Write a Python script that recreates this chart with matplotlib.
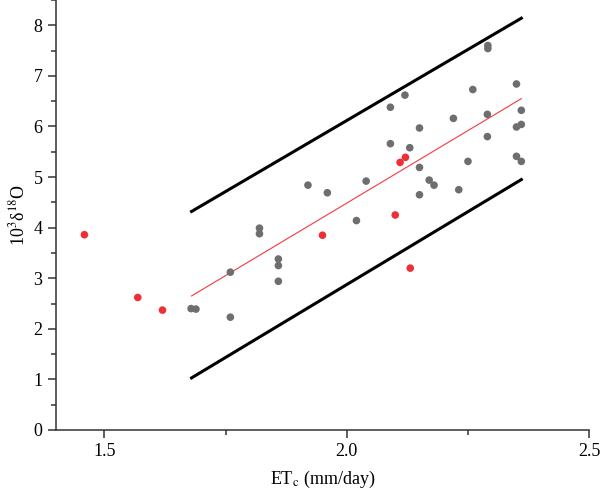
import matplotlib.pyplot as plt
from matplotlib.ticker import MultipleLocator

plt.rcParams["font.family"] = ["Liberation Serif", "DejaVu Serif"]
plt.rcParams["mathtext.fontset"] = "stix"

# grey = regular observations, red = outliers
grey_x = [1.679, 1.689, 1.760, 1.760, 1.820, 1.820, 1.859, 1.859, 1.859, 1.920,
          1.960, 2.020, 2.040, 2.090, 2.090, 2.120, 2.130, 2.150, 2.150, 2.150,
          2.170, 2.180, 2.220, 2.231, 2.250, 2.260, 2.291, 2.291, 2.290, 2.290,
          2.350, 2.350, 2.350, 2.360, 2.360, 2.360]
grey_y = [2.40, 2.39, 3.12, 2.23, 3.99, 3.88, 3.38, 3.25, 2.94, 4.84,
          4.69, 4.14, 4.92, 6.38, 5.66, 6.62, 5.58, 5.97, 5.19, 4.65,
          4.94, 4.84, 6.16, 4.75, 5.31, 6.73, 7.60, 7.54, 6.24, 5.80,
          6.84, 5.99, 5.41, 6.32, 6.04, 5.31]
red_x = [1.459, 1.569, 1.620, 1.950, 2.100, 2.110, 2.121, 2.131]
red_y = [3.86, 2.62, 2.37, 3.85, 4.25, 5.29, 5.39, 3.20]

# fitted line and its bounds
fit_x = [1.68, 2.36]
fit_y = [2.65, 6.55]
upper_y = [4.32, 8.14]
lower_y = [1.03, 4.95]

fig = plt.figure(figsize=(6, 5), dpi=100)
ax = fig.add_axes([0.093, 0.14, 0.889, 0.86])

ax.plot(fit_x, upper_y, color="black", lw=2.2, zorder=2)
ax.plot(fit_x, lower_y, color="black", lw=2.2, zorder=2)
ax.plot(fit_x, fit_y, color="#f03a3f", lw=0.8, zorder=2)
ax.scatter(grey_x, grey_y, s=30, color="#6e6e6e", edgecolors="none", zorder=3)
ax.scatter(red_x, red_y, s=30, color="#ee3036", edgecolors="none", zorder=3)

ax.set_xlim(1.4, 2.5)
ax.set_ylim(0, 8.5)
ax.xaxis.set_major_locator(MultipleLocator(0.5))
ax.xaxis.set_minor_locator(MultipleLocator(0.25))
ax.yaxis.set_major_locator(MultipleLocator(1))
ax.yaxis.set_minor_locator(MultipleLocator(0.5))
ax.xaxis.set_major_formatter(plt.FuncFormatter(lambda v, p: f"{v:.1f}"))

for s in ["top", "right"]:
    ax.spines[s].set_visible(False)
for s in ["left", "bottom"]:
    ax.spines[s].set_color("#333333")
    ax.spines[s].set_linewidth(1.1)
ax.tick_params(which="major", direction="out", length=6, width=1.1,
               color="#333333", labelsize=13)
ax.tick_params(which="minor", direction="out", length=3.5, width=1.1,
               color="#333333")

ax.set_xlabel(r"ET$_\mathrm{c}$ (mm/day)", fontsize=13, labelpad=6)
ax.set_ylabel("10$^3$δ$^{18}$O", fontsize=13, labelpad=4)

fig.savefig("out.png", dpi=100)
